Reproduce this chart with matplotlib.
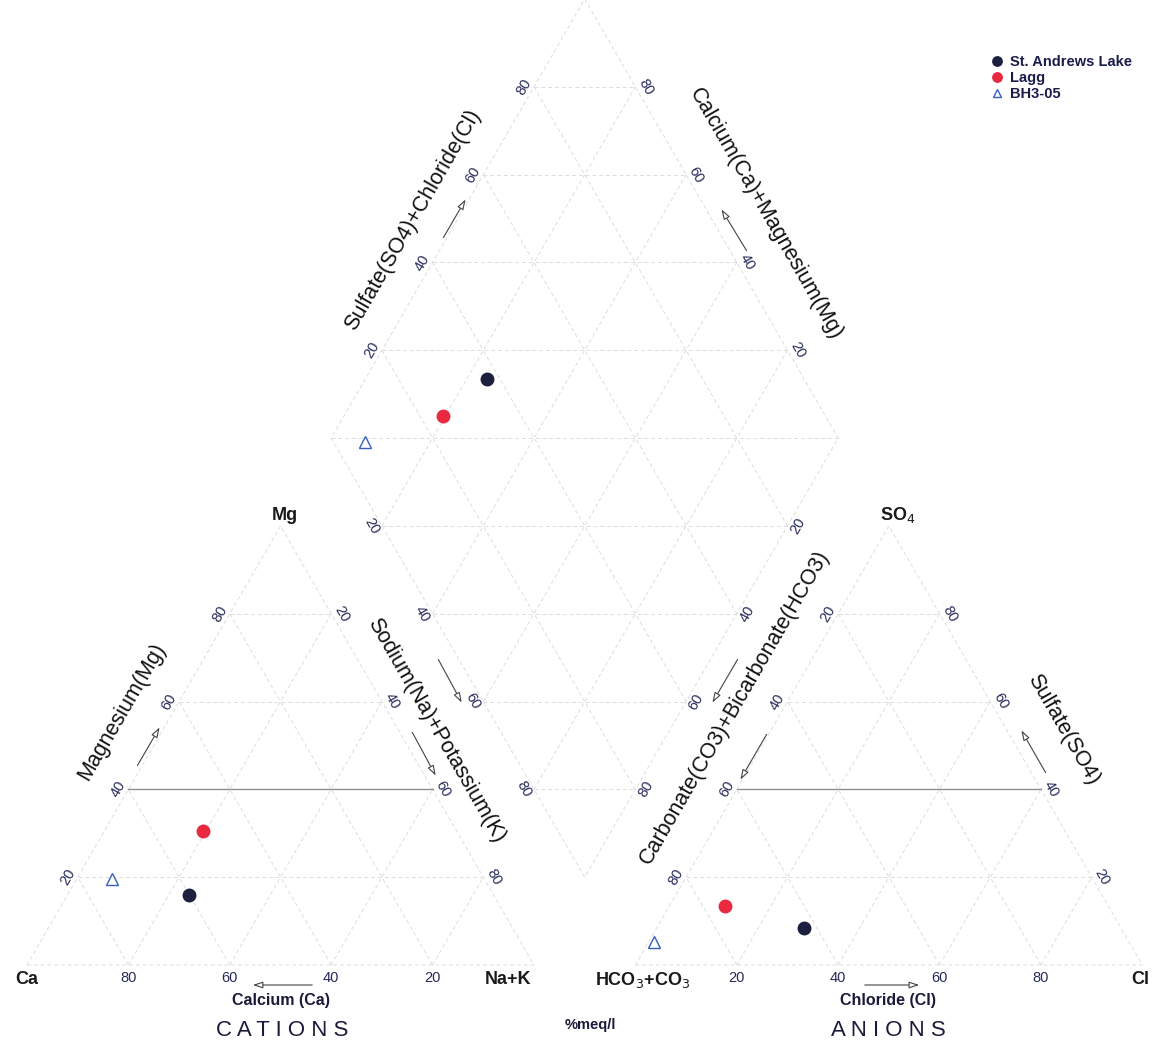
import numpy as np
import matplotlib.pyplot as plt

plt.rcParams['font.family'] = ['Liberation Sans', 'DejaVu Sans']

# sample data, % meq/l
samples = ["St. Andrews Lake", "Lagg", "BH3-05"]
ca = [60.0, 50.0, 73.5]
mg = [16.0, 30.5, 19.5]
na_k = [24.0, 19.5, 7.0]
hco3_co3 = [62.5, 75.5, 93.8]
so4 = [8.5, 13.5, 5.2]
cl = [29.0, 11.0, 1.0]
ticks = [20, 40, 60, 80]

colors = ["#1c1f3d", "#e8293f", "#3560c0"]
markers = ["o", "o", "^"]
hollow = [False, False, True]

H = np.sqrt(3) / 2
GAP = 0.2
OX = 1 + GAP                      # left corner of anion triangle
B = (1 + GAP / 2, GAP * H)        # bottom corner of diamond
L = (B[0] - 0.5, B[1] + H)
R = (B[0] + 0.5, B[1] + H)
T = (B[0], B[1] + 2 * H)

# scan calibration: triangle side 507 px, Ca corner at px (27, 965)
S, X0, Y0 = 507.0, 27.0, 965.0
def px(x, y):
    return (x - X0) / S, (Y0 - y) / S

def cation_xy(c, m, n):
    c, m, n = np.array(c) / 100, np.array(m) / 100, np.array(n) / 100
    return n + m / 2, m * H

def anion_xy(h, s, c):
    h, s, c = np.array(h) / 100, np.array(s) / 100, np.array(c) / 100
    return OX + c + s / 2, s * H

def diamond_xy(n, s):
    n, s = np.array(n) / 100, np.array(s) / 100
    return B[0] - (1 - n) / 2 + s / 2, B[1] + ((1 - n) + s) * H

fig = plt.figure(figsize=(11.55, 10.45), dpi=100)
ax = fig.add_axes([0, 0, 1, 1])
ax.set_xlim(px(0, 0)[0], px(1155, 0)[0])
ax.set_ylim(px(0, 1045)[1], px(0, 0)[1])
ax.axis('off')

grid_kw = dict(color='#dddddd', lw=0.7, ls=(0, (4, 3)), zorder=1)

# triangles
for ox in (0, OX):
    ax.plot([ox, ox + 1, ox + 0.5, ox], [0, 0, H, 0], **grid_kw)
    for t in ticks:
        p = t / 100
        if t == 40:
            ax.plot([ox + p / 2, ox + 1 - p / 2], [p * H, p * H], color='#8f8f8f', lw=1.0, zorder=1)
        else:
            ax.plot([ox + p / 2, ox + 1 - p / 2], [p * H, p * H], **grid_kw)
        ax.plot([ox + p, ox + p + (1 - p) / 2], [0, (1 - p) * H], **grid_kw)
        ax.plot([ox + 1 - p, ox + (1 - p) / 2], [0, (1 - p) * H], **grid_kw)

# diamond
ax.plot([B[0], L[0], T[0], R[0], B[0]], [B[1], L[1], T[1], R[1], B[1]], **grid_kw)
for t in ticks:
    p = t / 100
    x0, y0 = L[0] + p / 2, L[1] - p * H
    ax.plot([x0, x0 + 0.5], [y0, y0 + H], **grid_kw)
    x0, y0 = L[0] + p / 2, L[1] + p * H
    ax.plot([x0, x0 + 0.5], [y0, y0 - H], **grid_kw)
for j in range(1, 10):
    y = B[1] + j * 0.2 * H
    half = (j if j <= 5 else 10 - j) * 0.1
    ax.plot([B[0] - half, B[0] + half], [y, y], **grid_kw)

# tick labels
tick_kw = dict(fontsize=10.5, color='#262a5a', ha='center', va='center')
yb = px(0, 978)[1]
d = 0.02
for t in ticks:
    p = t / 100
    ax.text(1 - p, yb, str(t), **tick_kw)
    ax.text(OX + p, yb, str(t), **tick_kw)
    ax.text(p / 2 - d, p * H, str(t), rotation=60, **tick_kw)
    ax.text(0.5 + p / 2 + d, (1 - p) * H, str(t), rotation=-60, **tick_kw)
    ax.text(OX + (1 - p) / 2 - d, (1 - p) * H, str(t), rotation=60, **tick_kw)
    ax.text(OX + 1 - p / 2 + d, p * H, str(t), rotation=-60, **tick_kw)
    ax.text(L[0] + p / 2 - d, L[1] + p * H, str(t), rotation=60, **tick_kw)
    ax.text(T[0] + (1 - p) / 2 + d, T[1] - (1 - p) * H, str(t), rotation=-60, **tick_kw)
    ax.text(L[0] + p / 2 - d, L[1] - p * H, str(t), rotation=-60, **tick_kw)
    ax.text(R[0] - p / 2 + d, R[1] - p * H, str(t), rotation=60, **tick_kw)

# corner labels
corner_kw = dict(fontsize=13, fontweight='bold', color='#1a1a1a', ha='center', va='center')
for label, (x, y) in [("Ca", (27, 980)), ("Na+K", (508, 980)), (r"HCO$_3$+CO$_3$", (643, 980)),
                      ("Cl", (1140, 980)), ("Mg", (285, 515)), (r"SO$_4$", (898, 515))]:
    ax.text(*px(x, y), label, **corner_kw)

# axis titles
title_kw = dict(fontsize=15.5, color='#111111', ha='center', va='center')
for label, (x, y), rot in [("Magnesium(Mg)", (122, 712), 60),
                           ("Sodium(Na)+Potassium(K)", (436, 730), -60),
                           ("Sulfate(SO4)", (1063, 730), -60),
                           ("Carbonate(CO3)+Bicarbonate(HCO3)", (735, 707), 60),
                           ("Sulfate(SO4)+Chloride(Cl)", (413, 220), 60),
                           ("Calcium(Ca)+Magnesium(Mg)", (766, 214), -60)]:
    ax.text(*px(x, y), label, rotation=rot, rotation_mode='anchor', **title_kw)

ax.text(*px(281, 1000), "Calcium (Ca)", fontsize=11.5, fontweight='bold', color='#1a1a3a', ha='center', va='center')
ax.text(*px(888, 1000), "Chloride (Cl)", fontsize=11.5, fontweight='bold', color='#1a1a3a', ha='center', va='center')
ax.text(*px(282, 1031), "C A T I O N S", fontsize=16, color='#1a1a3a', ha='center', va='center')
ax.text(*px(888, 1031), "A N I O N S", fontsize=16, color='#1a1a3a', ha='center', va='center')
ax.text(*px(590, 1025), "%meq/l", fontsize=10.5, fontweight='bold', color='#1a1a3a', ha='center', va='center')

# direction arrows
arrow_kw = dict(arrowstyle='-|>,head_length=0.6,head_width=0.2', lw=0.8, color='#444444', fc='white')
for tail, head in [((136, 768), (161, 725)), ((437, 657), (463, 705)), ((411, 730), (437, 778)),
                   ((315, 985), (250, 985)), ((862, 985), (922, 985)), ((1047, 775), (1020, 728)),
                   ((739, 657), (711, 705)), ((768, 732), (739, 782)), ((442, 240), (467, 197)),
                   ((748, 253), (720, 207))]:
    ax.annotate('', xy=px(*head), xytext=px(*tail), arrowprops=arrow_kw)

# samples
cx, cy = cation_xy(ca, mg, na_k)
axx, ayy = anion_xy(hco3_co3, so4, cl)
dx, dy = diamond_xy(na_k, np.array(so4) + np.array(cl))
handles = []
for i, name in enumerate(samples):
    mfc = 'none' if hollow[i] else colors[i]
    h, = ax.plot([cx[i], axx[i], dx[i]], [cy[i], ayy[i], dy[i]], ls='none', marker=markers[i],
                 ms=9 if not hollow[i] else 8, mfc=mfc, mec=colors[i], mew=1.0, label=name, zorder=5)
    handles.append(h)

leg = ax.legend(handles=handles, loc='upper left', bbox_to_anchor=(991 / 1155, 1 - 55 / 1045),
                bbox_transform=fig.transFigure, frameon=False, fontsize=10.5, markerscale=0.75,
                handlelength=0.8, handletextpad=0.5, labelspacing=0.15, borderpad=0, borderaxespad=0)
for txt in leg.get_texts():
    txt.set_color('#1a1d4a')
    txt.set_fontweight('bold')

fig.savefig('out.png', dpi=100)
